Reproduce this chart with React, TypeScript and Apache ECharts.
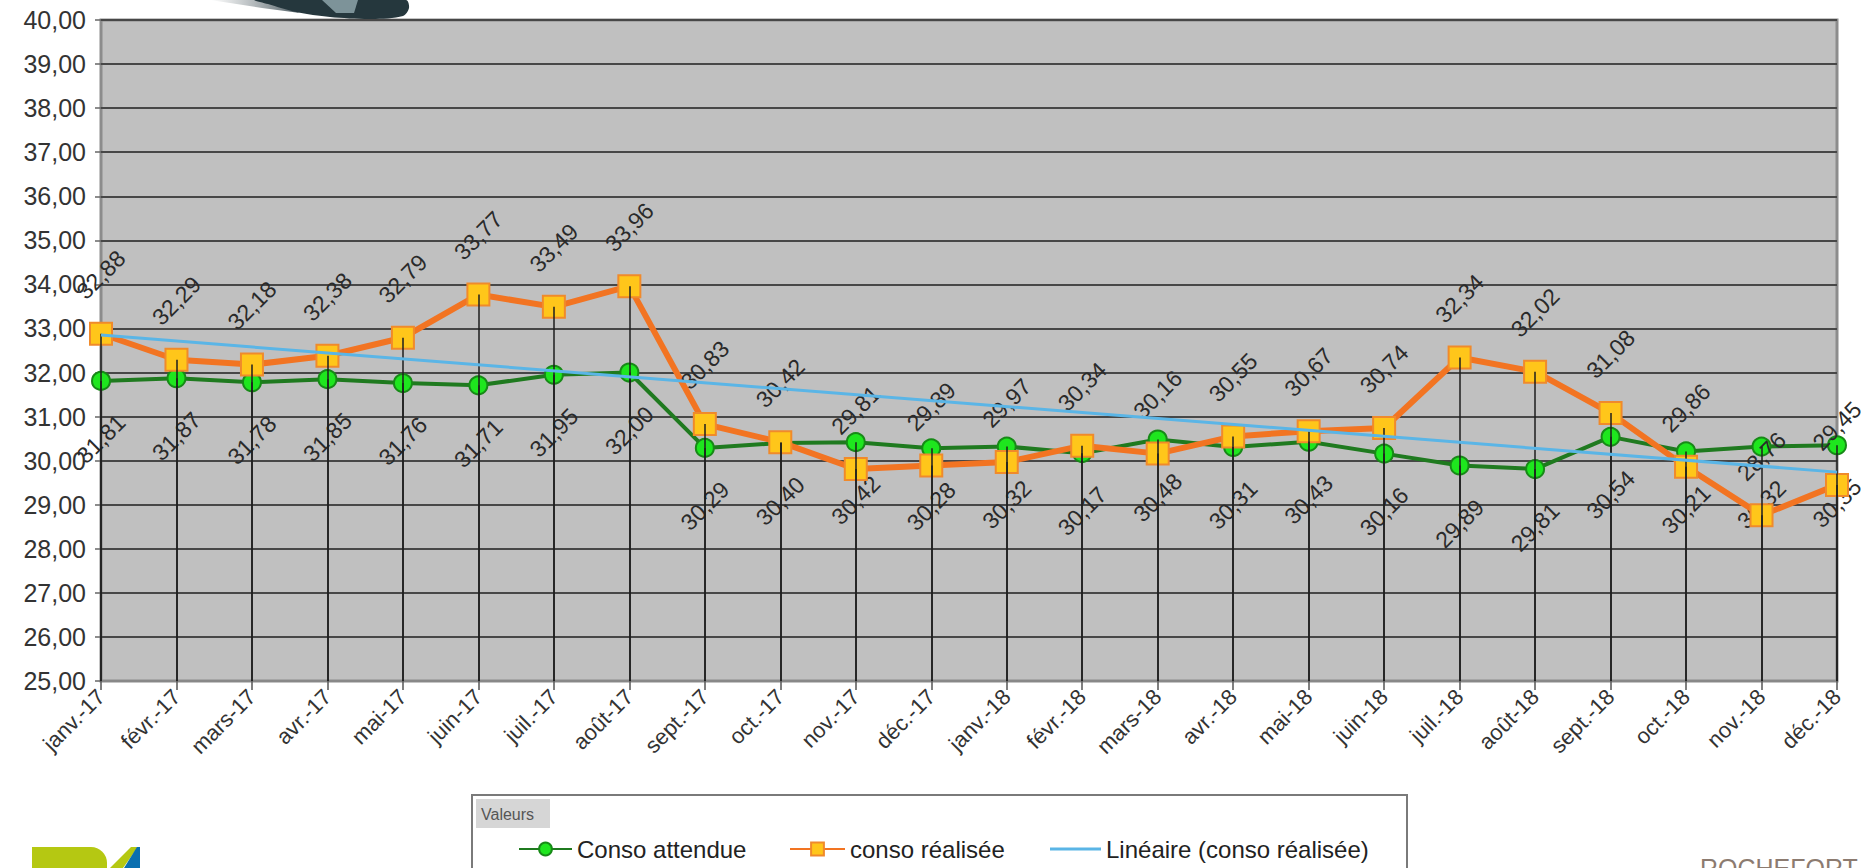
import React, { useEffect, useRef } from "react";
import * as echarts from "echarts";

const categories = [
  "janv.-17", "févr.-17", "mars-17", "avr.-17", "mai-17", "juin-17",
  "juil.-17", "août-17", "sept.-17", "oct.-17", "nov.-17", "déc.-17",
  "janv.-18", "févr.-18", "mars-18", "avr.-18", "mai-18", "juin-18",
  "juil.-18", "août-18", "sept.-18", "oct.-18", "nov.-18", "déc.-18",
];

const consoAttendue = [
  31.81, 31.87, 31.78, 31.85, 31.76, 31.71, 31.95, 32.0, 30.29, 30.4, 30.42, 30.28,
  30.32, 30.17, 30.48, 30.31, 30.43, 30.16, 29.89, 29.81, 30.54, 30.21, 30.32, 30.35,
];

const consoRealisee = [
  32.88, 32.29, 32.18, 32.38, 32.79, 33.77, 33.49, 33.96, 30.83, 30.42, 29.81, 29.89,
  29.97, 30.34, 30.16, 30.55, 30.67, 30.74, 32.34, 32.02, 31.08, 29.86, 28.76, 29.45,
];

// trend line (linear, conso réalisée) read at first and last month
const trendEnds = [32.85, 29.74];

const Y_MIN = 25;
const Y_MAX = 40;
const Y_STEP = 1;

const NAME_ATT = "Conso attendue";
const NAME_REA = "conso réalisée";
const NAME_LIN = "Linéaire (conso réalisée)";

const FONT = "'Liberation Sans', Arial, sans-serif";

export default function App() {
  const ref = useRef<HTMLDivElement>(null);

  useEffect(() => {
    if (!ref.current) return;
    const chart = echarts.init(ref.current, null, { renderer: "svg" });
    const fmt = (v: number) => Number(v).toFixed(2).replace(".", ",");

    const dropLines: any[] = [];
    consoAttendue.forEach((v, i) => {
      dropLines.push([{ coord: [categories[i], Y_MIN] }, { coord: [categories[i], v] }]);
    });
    consoRealisee.forEach((v, i) => {
      dropLines.push([{ coord: [categories[i], Y_MIN] }, { coord: [categories[i], v] }]);
    });

    const trendData = [
      [categories[0], trendEnds[0]],
      [categories[categories.length - 1], trendEnds[1]],
    ];

    const legendCommon = {
      top: 832,
      itemHeight: 16,
      selectedMode: false,
      textStyle: { fontSize: 24, color: "#222", fontFamily: FONT },
    };

    chart.setOption({
      animation: false,
      backgroundColor: "#ffffff",
      textStyle: { fontFamily: FONT },
      grid: {
        left: 101,
        right: 24,
        top: 20,
        bottom: 187,
        show: true,
        backgroundColor: "#c0c0c0",
        borderColor: "#8c8c8c",
        borderWidth: 3,
      },
      xAxis: {
        type: "category",
        data: categories,
        boundaryGap: false,
        axisLine: { show: true, lineStyle: { color: "#888", width: 2 } },
        axisTick: { show: true, length: 9, lineStyle: { color: "#555", width: 1.5 } },
        axisLabel: {
          rotate: 45,
          interval: 0,
          fontSize: 22,
          color: "#333",
          margin: 12,
          fontFamily: FONT,
        },
        splitLine: { show: false },
      },
      yAxis: {
        type: "value",
        min: Y_MIN,
        max: Y_MAX,
        interval: Y_STEP,
        axisLine: { show: false },
        axisTick: { show: true, length: 6, lineStyle: { color: "#666", width: 1.5 } },
        axisLabel: {
          formatter: (v: number) => fmt(v),
          fontSize: 25,
          color: "#333",
          margin: 15,
          fontFamily: FONT,
        },
        splitLine: { show: true, lineStyle: { color: "#474747", width: 2 } },
      },
      legend: [
        { ...legendCommon, left: 513, itemWidth: 53, data: [NAME_ATT] },
        { ...legendCommon, left: 784, itemWidth: 55, data: [NAME_REA] },
        {
          ...legendCommon,
          left: 1045,
          itemWidth: 51,
          itemHeight: 3,
          data: [{ name: NAME_LIN, icon: "rect" }],
        },
      ],
      series: [
        {
          name: "drop",
          type: "line",
          data: [],
          z: 1,
          silent: true,
          markLine: {
            silent: true,
            symbol: "none",
            animation: false,
            label: { show: false },
            lineStyle: { color: "#1e1e1e", width: 1.5, type: "solid" },
            emphasis: { disabled: true },
            data: dropLines,
          },
        },
        {
          name: NAME_ATT,
          type: "line",
          data: consoAttendue,
          z: 3,
          clip: false,
          symbol: "circle",
          symbolSize: 18,
          lineStyle: { color: "#1f7a1f", width: 4 },
          itemStyle: { color: "#1ee61e", borderColor: "#178a17", borderWidth: 2 },
          label: {
            show: true,
            position: "bottom",
            distance: 48,
            rotate: 45,
            align: "center",
            verticalAlign: "middle",
            fontSize: 23,
            color: "#2a2a2a",
            fontFamily: FONT,
            formatter: (p: any) => fmt(p.value),
          },
        },
        {
          name: NAME_REA,
          type: "line",
          data: consoRealisee,
          z: 4,
          clip: false,
          symbol: "rect",
          symbolSize: 22,
          lineStyle: { color: "#f27422", width: 6 },
          itemStyle: { color: "#ffc61a", borderColor: "#f08a2b", borderWidth: 2 },
          label: {
            show: true,
            position: "top",
            distance: 47,
            rotate: 45,
            align: "center",
            verticalAlign: "middle",
            fontSize: 23,
            color: "#2a2a2a",
            fontFamily: FONT,
            formatter: (p: any) => fmt(p.value),
          },
        },
        {
          name: NAME_LIN,
          type: "line",
          data: trendData,
          z: 5,
          symbol: "none",
          lineStyle: { color: "#5ab5e6", width: 3 },
          itemStyle: { color: "#5ab5e6" },
        },
      ],
      graphic: [
        // legend frame
        {
          type: "rect",
          z: 0,
          shape: { x: 472, y: 795, width: 935, height: 100 },
          style: { fill: "#ffffff", stroke: "#7a7a7a", lineWidth: 2 },
        },
        {
          type: "rect",
          z: 1,
          shape: { x: 476, y: 799, width: 74, height: 29 },
          style: { fill: "#d6d6d6" },
        },
        {
          type: "text",
          z: 2,
          x: 481,
          y: 814,
          style: {
            text: "Valeurs",
            fontSize: 16,
            fill: "#555",
            fontFamily: FONT,
            verticalAlign: "middle",
          },
        },
        // top logo fragment
        {
          type: "polygon",
          z: 0,
          shape: { points: [[210, 0], [268, 0], [300, 13], [262, 8], [230, 3]] },
          style: {
            fill: {
              type: "linear", x: 0, y: 0, x2: 1, y2: 0,
              colorStops: [
                { offset: 0, color: "rgba(120,130,135,0)" },
                { offset: 1, color: "#4b5a60" },
              ],
            },
          },
        },
        {
          type: "polygon",
          z: 0,
          shape: {
            points: [[255, 0], [406, 0], [409, 8], [403, 16], [372, 19], [330, 17], [296, 12], [268, 4]],
            smooth: 0.3,
          },
          style: { fill: "#25373d" },
        },
        {
          type: "polygon",
          z: 1,
          shape: { points: [[322, 0], [358, 0], [354, 13], [336, 13]] },
          style: { fill: "#7d9399" },
        },
        // bottom-left logo fragment
        {
          type: "rect",
          z: 0,
          shape: { x: 32, y: 847, width: 75, height: 30, r: [0, 16, 0, 0] },
          style: { fill: "#b5c812" },
        },
        {
          type: "polygon",
          z: 0,
          shape: { points: [[110, 868], [131, 847], [138, 847], [123, 868]] },
          style: { fill: "#b5c812" },
        },
        {
          type: "polygon",
          z: 0,
          shape: { points: [[137, 847], [140, 847], [140, 868], [124, 868]] },
          style: { fill: "#0a6fb0" },
        },
        // bottom-right text fragment
        {
          type: "text",
          z: 0,
          x: 1700,
          y: 855,
          style: {
            text: "ROCHEFORT",
            fontSize: 25,
            fill: "#8c7b70",
            fontFamily: FONT,
            verticalAlign: "top",
          },
        },
      ],
    });

    return () => chart.dispose();
  }, []);

  return (
    <div
      ref={ref}
      style={{
        position: "fixed",
        left: 0,
        top: 0,
        width: "1861px",
        height: "868px",
        background: "#ffffff",
      }}
    />
  );
}
